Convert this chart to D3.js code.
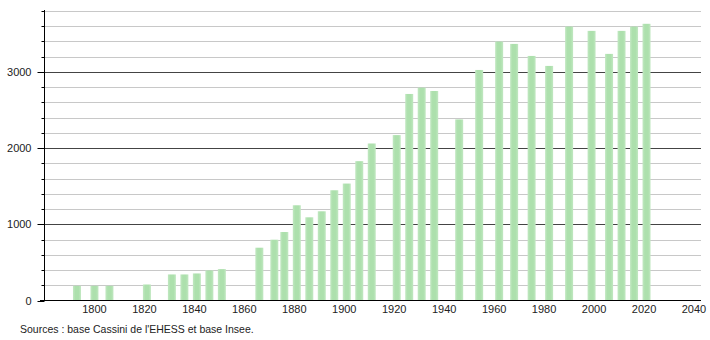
<!DOCTYPE html>
<html>
<head>
<meta charset="utf-8">
<script src="https://cdn.jsdelivr.net/npm/d3@7"></script>
<style>
  body { margin: 0; background: #fff; }
  svg text { font-family: "Liberation Sans", Arial, sans-serif; }
</style>
</head>
<body>
<div id="chart"></div>
<script>
// census years and population
const years = [1793, 1800, 1806, 1821, 1831, 1836, 1841, 1846, 1851, 1866, 1872, 1876,
    1881, 1886, 1891, 1896, 1901, 1906, 1911, 1921, 1926, 1931, 1936, 1946,
    1954, 1962, 1968, 1975, 1982, 1990, 1999, 2006, 2011, 2016, 2021];
const population = [193, 193, 193, 210, 342, 342, 355, 395, 412, 693, 798, 899,
    1250, 1092, 1171, 1447, 1535, 1829, 2061, 2171, 2711, 2794, 2750, 2377,
    3026, 3399, 3368, 3210, 3079, 3596, 3539, 3237, 3539, 3596, 3632];
const xTicks = [1800, 1820, 1840, 1860, 1880, 1900, 1920, 1940, 1960, 1980, 2000, 2020, 2040];
const yMajor = [0, 1000, 2000, 3000];
const yMinor = d3.range(0, 3801, 200);
const source = "Sources : base Cassini de l'EHESS et base Insee.";

const W = 710, H = 340;

const svg = d3.select("#chart")
    .append("svg")
    .attr("width", W)
    .attr("height", H);

const x = d3.scaleLinear().domain([1780, 2040]).range([44.5, 694]);
const y = d3.scaleLinear().domain([0, 3800]).range([300.5, 11]);

// gridlines
svg.append("g")
    .selectAll("line")
    .data(yMinor.filter(v => v % 1000 !== 0))
    .join("line")
    .attr("x1", 44).attr("x2", 701)
    .attr("y1", d => Math.round(y(d)) + 0.5).attr("y2", d => Math.round(y(d)) + 0.5)
    .attr("stroke", "#c8c8c8");

svg.append("g")
    .selectAll("line")
    .data(yMajor.filter(v => v > 0))
    .join("line")
    .attr("x1", 44).attr("x2", 701)
    .attr("y1", d => Math.round(y(d)) + 0.5).attr("y2", d => Math.round(y(d)) + 0.5)
    .attr("stroke", "#444");

// bars
const defs = svg.append("defs");
const grad = defs.append("linearGradient").attr("id", "barGrad")
    .attr("x1", "0").attr("x2", "1").attr("y1", "0").attr("y2", "0");
grad.append("stop").attr("offset", "0%").attr("stop-color", "#c2e8c2");
grad.append("stop").attr("offset", "30%").attr("stop-color", "#ade0ad");
grad.append("stop").attr("offset", "70%").attr("stop-color", "#ade0ad");
grad.append("stop").attr("offset", "100%").attr("stop-color", "#c2e8c2");

const barW = 8;
svg.append("g")
    .selectAll("rect")
    .data(years.map((yr, i) => ({ year: yr, value: population[i] })))
    .join("rect")
    .attr("x", d => x(d.year) - barW / 2)
    .attr("width", barW)
    .attr("y", d => y(d.value))
    .attr("height", d => y(0) - y(d.value))
    .attr("fill", "url(#barGrad)");

// y axis
const yAxis = svg.append("g").attr("transform", "translate(44.5,0)");
yAxis.append("line")
    .attr("y1", 10).attr("y2", 300.5)
    .attr("stroke", "#000");
yAxis.selectAll("line.minor")
    .data(yMinor)
    .join("line")
    .attr("class", "minor")
    .attr("x1", d => d % 1000 === 0 ? -7 : -3).attr("x2", 0)
    .attr("y1", d => Math.round(y(d)) + 0.5).attr("y2", d => Math.round(y(d)) + 0.5)
    .attr("stroke", "#000");
yAxis.selectAll("text")
    .data(yMajor)
    .join("text")
    .attr("x", -13)
    .attr("y", d => y(d) + 4)
    .attr("text-anchor", "end")
    .attr("font-size", 11)
    .attr("fill", "#222")
    .text(d => d);

// x axis
svg.append("line")
    .attr("x1", 40).attr("x2", 701)
    .attr("y1", 300.5).attr("y2", 300.5)
    .attr("stroke", "#000");
svg.append("g")
    .selectAll("text")
    .data(xTicks)
    .join("text")
    .attr("x", d => x(d))
    .attr("y", 313)
    .attr("text-anchor", "middle")
    .attr("font-size", 11)
    .attr("fill", "#222")
    .text(d => d);

// source
svg.append("text")
    .attr("x", 20)
    .attr("y", 333)
    .attr("font-size", 10.5)
    .attr("fill", "#222")
    .text(source);
</script>
</body>
</html>
